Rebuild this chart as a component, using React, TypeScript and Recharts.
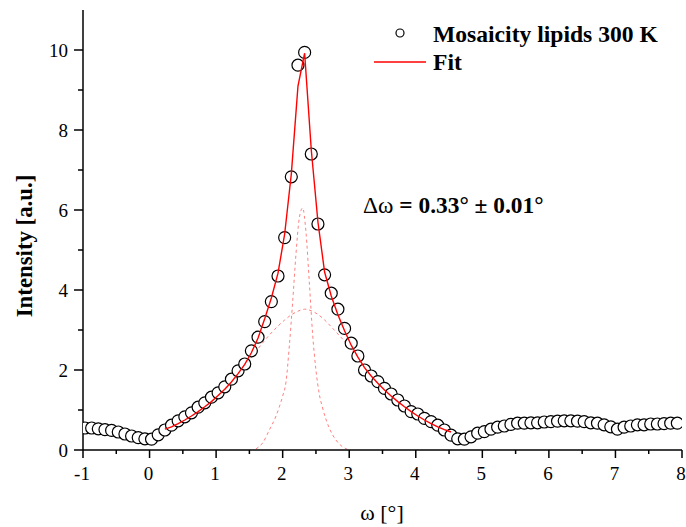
import React from 'react';
import { ComposedChart, Line, XAxis, YAxis } from 'recharts';

const pointX = [
  -0.97, -0.87, -0.77, -0.67, -0.57, -0.47, -0.37, -0.27, -0.17, -0.07,
  0.03, 0.13, 0.23, 0.33, 0.43, 0.53, 0.63, 0.73, 0.83, 0.93,
  1.03, 1.13, 1.23, 1.33, 1.43, 1.53, 1.63, 1.73, 1.83, 1.93,
  2.03, 2.13, 2.23, 2.33, 2.43, 2.53, 2.63, 2.73, 2.83, 2.93,
  3.03, 3.13, 3.23, 3.33, 3.43, 3.53, 3.63, 3.73, 3.83, 3.93,
  4.03, 4.13, 4.23, 4.33, 4.43, 4.53, 4.63, 4.73, 4.83, 4.93,
  5.03, 5.13, 5.23, 5.33, 5.43, 5.53, 5.63, 5.73, 5.83, 5.93,
  6.03, 6.13, 6.23, 6.33, 6.43, 6.53, 6.63, 6.73, 6.83, 6.93,
  7.03, 7.13, 7.23, 7.33, 7.43, 7.53, 7.63, 7.73, 7.83, 7.93,
];
const pointY = [
  0.55, 0.55, 0.53, 0.51, 0.49, 0.45, 0.40, 0.35, 0.31, 0.28,
  0.27, 0.38, 0.50, 0.62, 0.73, 0.83, 0.93, 1.07, 1.18, 1.32,
  1.43, 1.58, 1.77, 1.98, 2.15, 2.48, 2.82, 3.21, 3.71, 4.35,
  5.31, 6.83, 9.62, 9.94, 7.40, 5.65, 4.38, 3.92, 3.52, 3.04,
  2.67, 2.35, 2.00, 1.85, 1.71, 1.54, 1.40, 1.25, 1.10, 0.96,
  0.90, 0.79, 0.71, 0.62, 0.50, 0.37, 0.28, 0.27, 0.33, 0.42,
  0.46, 0.52, 0.57, 0.60, 0.64, 0.67, 0.67, 0.68, 0.68, 0.70,
  0.71, 0.72, 0.73, 0.73, 0.72, 0.71, 0.68, 0.67, 0.63, 0.58,
  0.52, 0.57, 0.60, 0.63, 0.63, 0.65, 0.65, 0.66, 0.67, 0.67,
];

const fitX = [
  0.23, 0.33, 0.43, 0.53, 0.63, 0.73, 0.83, 0.93, 1.03, 1.13,
  1.23, 1.33, 1.43, 1.53, 1.63, 1.73, 1.83, 1.93, 2.03, 2.13,
  2.23, 2.33, 2.43, 2.53, 2.63, 2.73, 2.83, 2.93, 3.03, 3.13,
  3.23, 3.33, 3.43, 3.53, 3.63, 3.73, 3.83, 3.93, 4.03, 4.13,
  4.23, 4.33, 4.43, 4.53,
];
const fitY = [
  0.52, 0.58, 0.66, 0.75, 0.85, 0.96, 1.08, 1.21, 1.36, 1.52,
  1.70, 1.91, 2.14, 2.43, 2.80, 3.28, 3.80, 4.42, 5.40, 6.90,
  9.10, 9.92, 7.50, 5.70, 4.45, 3.85, 3.38, 2.98, 2.62, 2.32,
  2.06, 1.85, 1.67, 1.50, 1.35, 1.21, 1.08, 0.96, 0.85, 0.75,
  0.66, 0.58, 0.51, 0.45,
];
const broadY = [
  0.52, 0.58, 0.66, 0.75, 0.85, 0.96, 1.08, 1.21, 1.35, 1.51,
  1.68, 1.88, 2.08, 2.30, 2.53, 2.74, 2.93, 3.10, 3.25, 3.38,
  3.47, 3.52, 3.48, 3.39, 3.25, 3.08, 2.90, 2.72, 2.52, 2.30,
  2.07, 1.85, 1.67, 1.50, 1.35, 1.21, 1.08, 0.96, 0.85, 0.75,
  0.66, 0.58, 0.51, 0.45,
];

const narrowX = [
  1.6, 1.7, 1.8, 1.9, 1.95, 2.0, 2.05, 2.1, 2.15, 2.2, 2.25, 2.3,
  2.35, 2.4, 2.45, 2.5, 2.55, 2.6, 2.7, 2.8, 2.9, 2.97,
];
const narrowY = [
  0.03, 0.18, 0.50, 0.85, 1.08, 1.35, 1.70, 2.60, 3.70, 4.90, 5.80, 6.05,
  5.45, 4.20, 2.90, 2.00, 1.40, 1.05, 0.55, 0.25, 0.08, 0.02,
];

const xTicks = [-1, -0.5, 0, 0.5, 1, 1.5, 2, 2.5, 3, 3.5, 4, 4.5, 5, 5.5, 6, 6.5, 7, 7.5, 8];
const xLabelTicks = [-1, 0, 1, 2, 3, 4, 5, 6, 7, 8];
const yTicks = [0, 1, 2, 3, 4, 5, 6, 7, 8, 9, 10];
const yLabelTicks = [0, 2, 4, 6, 8, 10];

const points = pointX.map((x, i) => ({ x, y: pointY[i] }));
const fitData = fitX.map((x, i) => ({ x, y: fitY[i] }));
const broadData = fitX.map((x, i) => ({ x, y: broadY[i] }));
const narrowData = narrowX.map((x, i) => ({ x, y: narrowY[i] }));

const FONT = '"Liberation Serif", "Times New Roman", serif';

const XTick = (props: any) => {
  const { x, y, payload } = props;
  const v = payload.value;
  const major = xLabelTicks.includes(v);
  return (
    <g>
      <line x1={x} x2={x} y1={y} y2={y + (major ? 8 : 4)} stroke="#000" strokeWidth={1.5} />
      {major && (
        <text x={x - 1} y={y + 30} textAnchor="middle" fontFamily={FONT} fontSize={19} fill="#000">
          {v}
        </text>
      )}
    </g>
  );
};

const YTick = (props: any) => {
  const { x, y, payload } = props;
  const v = payload.value;
  const major = yLabelTicks.includes(v);
  return (
    <g>
      <line x1={x} x2={x - (major ? 9 : 5)} y1={y} y2={y} stroke="#000" strokeWidth={1.5} />
      {major && (
        <text x={x - 15} y={y + 6.5} textAnchor="end" fontFamily={FONT} fontSize={19} fill="#000">
          {v}
        </text>
      )}
    </g>
  );
};

const renderCircle = (p: any) => (
  <circle key={`pt-${p.index}`} cx={p.cx} cy={p.cy} r={6} fill="#fff" stroke="#000" strokeWidth={1.2} />
);

export default function App() {
  const fitProps: any = { zIndex: 1000 };
  return (
    <div style={{ position: 'absolute', left: 0, top: 0, width: 686, height: 527, background: '#fff' }}>
      <ComposedChart width={686} height={527} margin={{ top: 10, right: 4, bottom: 37, left: 0 }}>
        <XAxis
          dataKey="x"
          type="number"
          domain={[-1, 8]}
          ticks={xTicks}
          interval={0}
          height={40}
          tickSize={0}
          tickMargin={0}
          tickLine={false}
          tick={<XTick />}
          axisLine={{ stroke: '#000', strokeWidth: 1.5 }}
          allowDataOverflow
        />
        <XAxis
          xAxisId="top"
          orientation="top"
          dataKey="x"
          type="number"
          domain={[-1, 8]}
          height={0}
          tick={false}
          tickLine={false}
          axisLine={{ stroke: '#222', strokeWidth: 1.5 }}
        />
        <YAxis
          type="number"
          domain={[0, 11]}
          ticks={yTicks}
          interval={0}
          width={83}
          tickSize={0}
          tickMargin={0}
          tickLine={false}
          tick={<YTick />}
          axisLine={{ stroke: '#000', strokeWidth: 1.5 }}
          allowDataOverflow
        />
        <YAxis
          yAxisId="right"
          orientation="right"
          type="number"
          domain={[0, 11]}
          width={0}
          tick={false}
          tickLine={false}
          axisLine={{ stroke: '#222', strokeWidth: 1.5 }}
        />
        <Line
          data={broadData}
          dataKey="y"
          type="monotone"
          stroke="#ff8080"
          strokeWidth={1}
          strokeDasharray="3 3"
          dot={false}
          activeDot={false}
          isAnimationActive={false}
        />
        <Line
          data={narrowData}
          dataKey="y"
          type="monotone"
          stroke="#ff8080"
          strokeWidth={1}
          strokeDasharray="3 3"
          dot={false}
          activeDot={false}
          isAnimationActive={false}
        />
        <Line
          data={points}
          dataKey="y"
          type="linear"
          stroke="none"
          dot={renderCircle}
          activeDot={false}
          isAnimationActive={false}
        />
        <Line
          data={fitData}
          dataKey="y"
          type="linear"
          stroke="#ff0000"
          strokeWidth={1.4}
          dot={false}
          activeDot={false}
          isAnimationActive={false}
          {...fitProps}
        />
      </ComposedChart>
      <svg
        width={686}
        height={527}
        style={{ position: 'absolute', left: 0, top: 0, pointerEvents: 'none' }}
      >
        <circle cx={400} cy={33} r={4} fill="#fff" stroke="#000" strokeWidth={1.2} />
        <text x={433} y={41.5} fontFamily={FONT} fontSize={23.6} fontWeight="bold" fill="#000">
          Mosaicity lipids 300 K
        </text>
        <line x1={374} x2={426} y1={62} y2={62} stroke="#ff0000" strokeWidth={1.4} />
        <text x={433} y={70} fontFamily={FONT} fontSize={23.6} fontWeight="bold" fill="#000">
          Fit
        </text>
        <text x={363} y={213} fontFamily={FONT} fontSize={23.4} fill="#000">
          <tspan>Δω</tspan>
          <tspan fontWeight="bold"> = 0.33° ± 0.01°</tspan>
        </text>
        <text
          x={32}
          y={246}
          transform="rotate(-90 32 246)"
          textAnchor="middle"
          fontFamily={FONT}
          fontSize={22.8}
          fontWeight="bold"
          fill="#000"
        >
          Intensity [a.u.]
        </text>
        <text x={382} y={520} textAnchor="middle" fontFamily={FONT} fontSize={22} fill="#000">
          ω [°]
        </text>
      </svg>
    </div>
  );
}
